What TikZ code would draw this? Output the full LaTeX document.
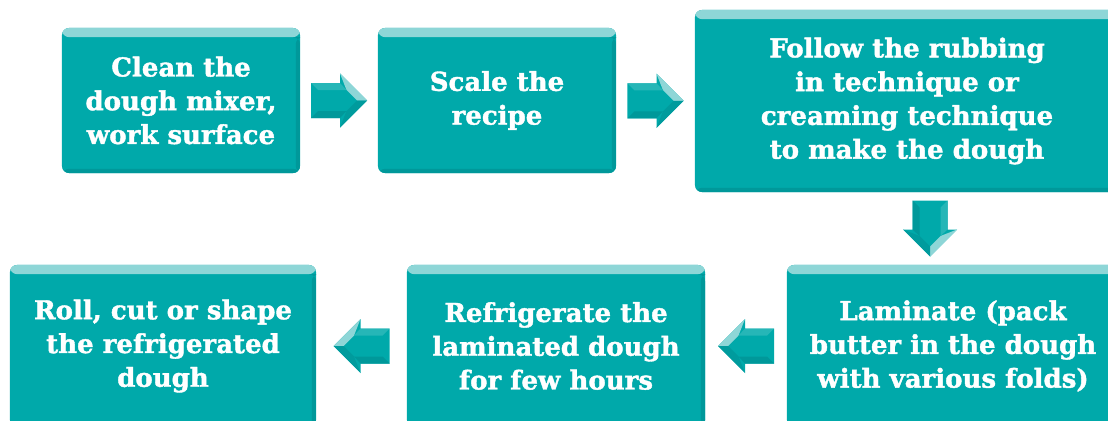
\documentclass[tikz,border=0pt]{standalone}
\usepackage{fontspec}
\setmainfont{DejaVu Serif}[BoldFeatures={FakeBold=1.5}]
\usetikzlibrary{calc, positioning}
\definecolor{Tealbox}{RGB}{0,169,170}
\definecolor{Teallight}{RGB}{142,214,215}
\definecolor{Tealdark}{RGB}{0,152,154}

\begin{document}
\begin{tikzpicture}[
  x=0.025cm, y=-0.025cm,
  stepbox/.style={
    rectangle, rounded corners=5pt, fill=Tealbox,
    text=white, font=\fontsize{18.5}{24}\selectfont\bfseries,
    align=center, inner sep=0pt,
    path picture={
      \fill[Teallight] (path picture bounding box.north west) rectangle
        ([yshift=-6.5pt]path picture bounding box.north east);
      \fill[Tealdark] (path picture bounding box.south west) rectangle
        ([yshift=3pt]path picture bounding box.south east);
      \fill[Tealdark] ([xshift=-3pt,yshift=-6.5pt]path picture bounding box.north east) rectangle
        (path picture bounding box.south east);
    }
  },
  barrow/.pic={
    \fill[Tealbox]   (-28,-17.5) -- (1,-17.5) -- (1,-27) -- (28,0) -- (1,27) -- (1,17.5) -- (-28,17.5) -- cycle;
    \fill[Teallight] (1,-27) -- (28,0) -- (18,0) -- (7.5,-10.5) -- cycle;
    \fill[Tealdark!80!Tealbox] (1,27) -- (28,0) -- (18,0) -- (7.5,10.5) -- cycle;
    \fill[Tealdark]  (-28,17.5) -- (1,17.5) -- (7.5,10.5) -- (-21,10.5) -- cycle;
    \fill[Tealbox!85!white] (-28,-17.5) -- (1,-17.5) -- (7.5,-10.5) -- (-21,-10.5) -- cycle;
  }
]
\useasboundingbox (0,0) rectangle (1108,420);

%% ── Fila superior ───────────────────────────────────────────────
\node[stepbox, minimum width=5.95cm, minimum height=3.625cm] (clean)  at (181,100.5)
  {Clean the\\dough mixer,\\work surface};
\node[stepbox, minimum width=5.95cm, minimum height=3.625cm] (scale)  at (497,100.5)
  {Scale the\\recipe};
\node[stepbox, minimum width=10.6cm, minimum height=4.55cm]  (follow) at (907,101)
  {Follow the rubbing\\in technique or\\creaming technique\\to make the dough};

%% ── Fila inferior ───────────────────────────────────────────────
\node[stepbox, minimum width=8.3cm,  minimum height=4.05cm]  (laminate) at (953,346)
  {Laminate (pack\\butter in the dough\\with various folds)};
\node[stepbox, minimum width=7.45cm, minimum height=4.05cm]  (fridge)   at (556,346)
  {Refrigerate the\\laminated dough\\for few hours};
\node[stepbox, minimum width=7.65cm, minimum height=4.05cm]  (roll)     at (163,346)
  {Roll, cut or shape\\the refrigerated\\dough};

%% ── Flechas de bloque ───────────────────────────────────────────
\pic (arrA) at ($(clean.east)!0.5!(scale.west)$)        {barrow};
\pic (arrB) at ($(scale.east)!0.5!(follow.west)$)       {barrow};
\pic[rotate=-90] (arrC) at ($(follow.south)!0.5!(laminate.north)$) {barrow};
\pic[xscale=-1] (arrD) at ($(laminate.west)!0.5!(fridge.east)$)    {barrow};
\pic[xscale=-1] (arrE) at ($(fridge.west)!0.5!(roll.east)$)        {barrow};

\end{tikzpicture}
\end{document}
